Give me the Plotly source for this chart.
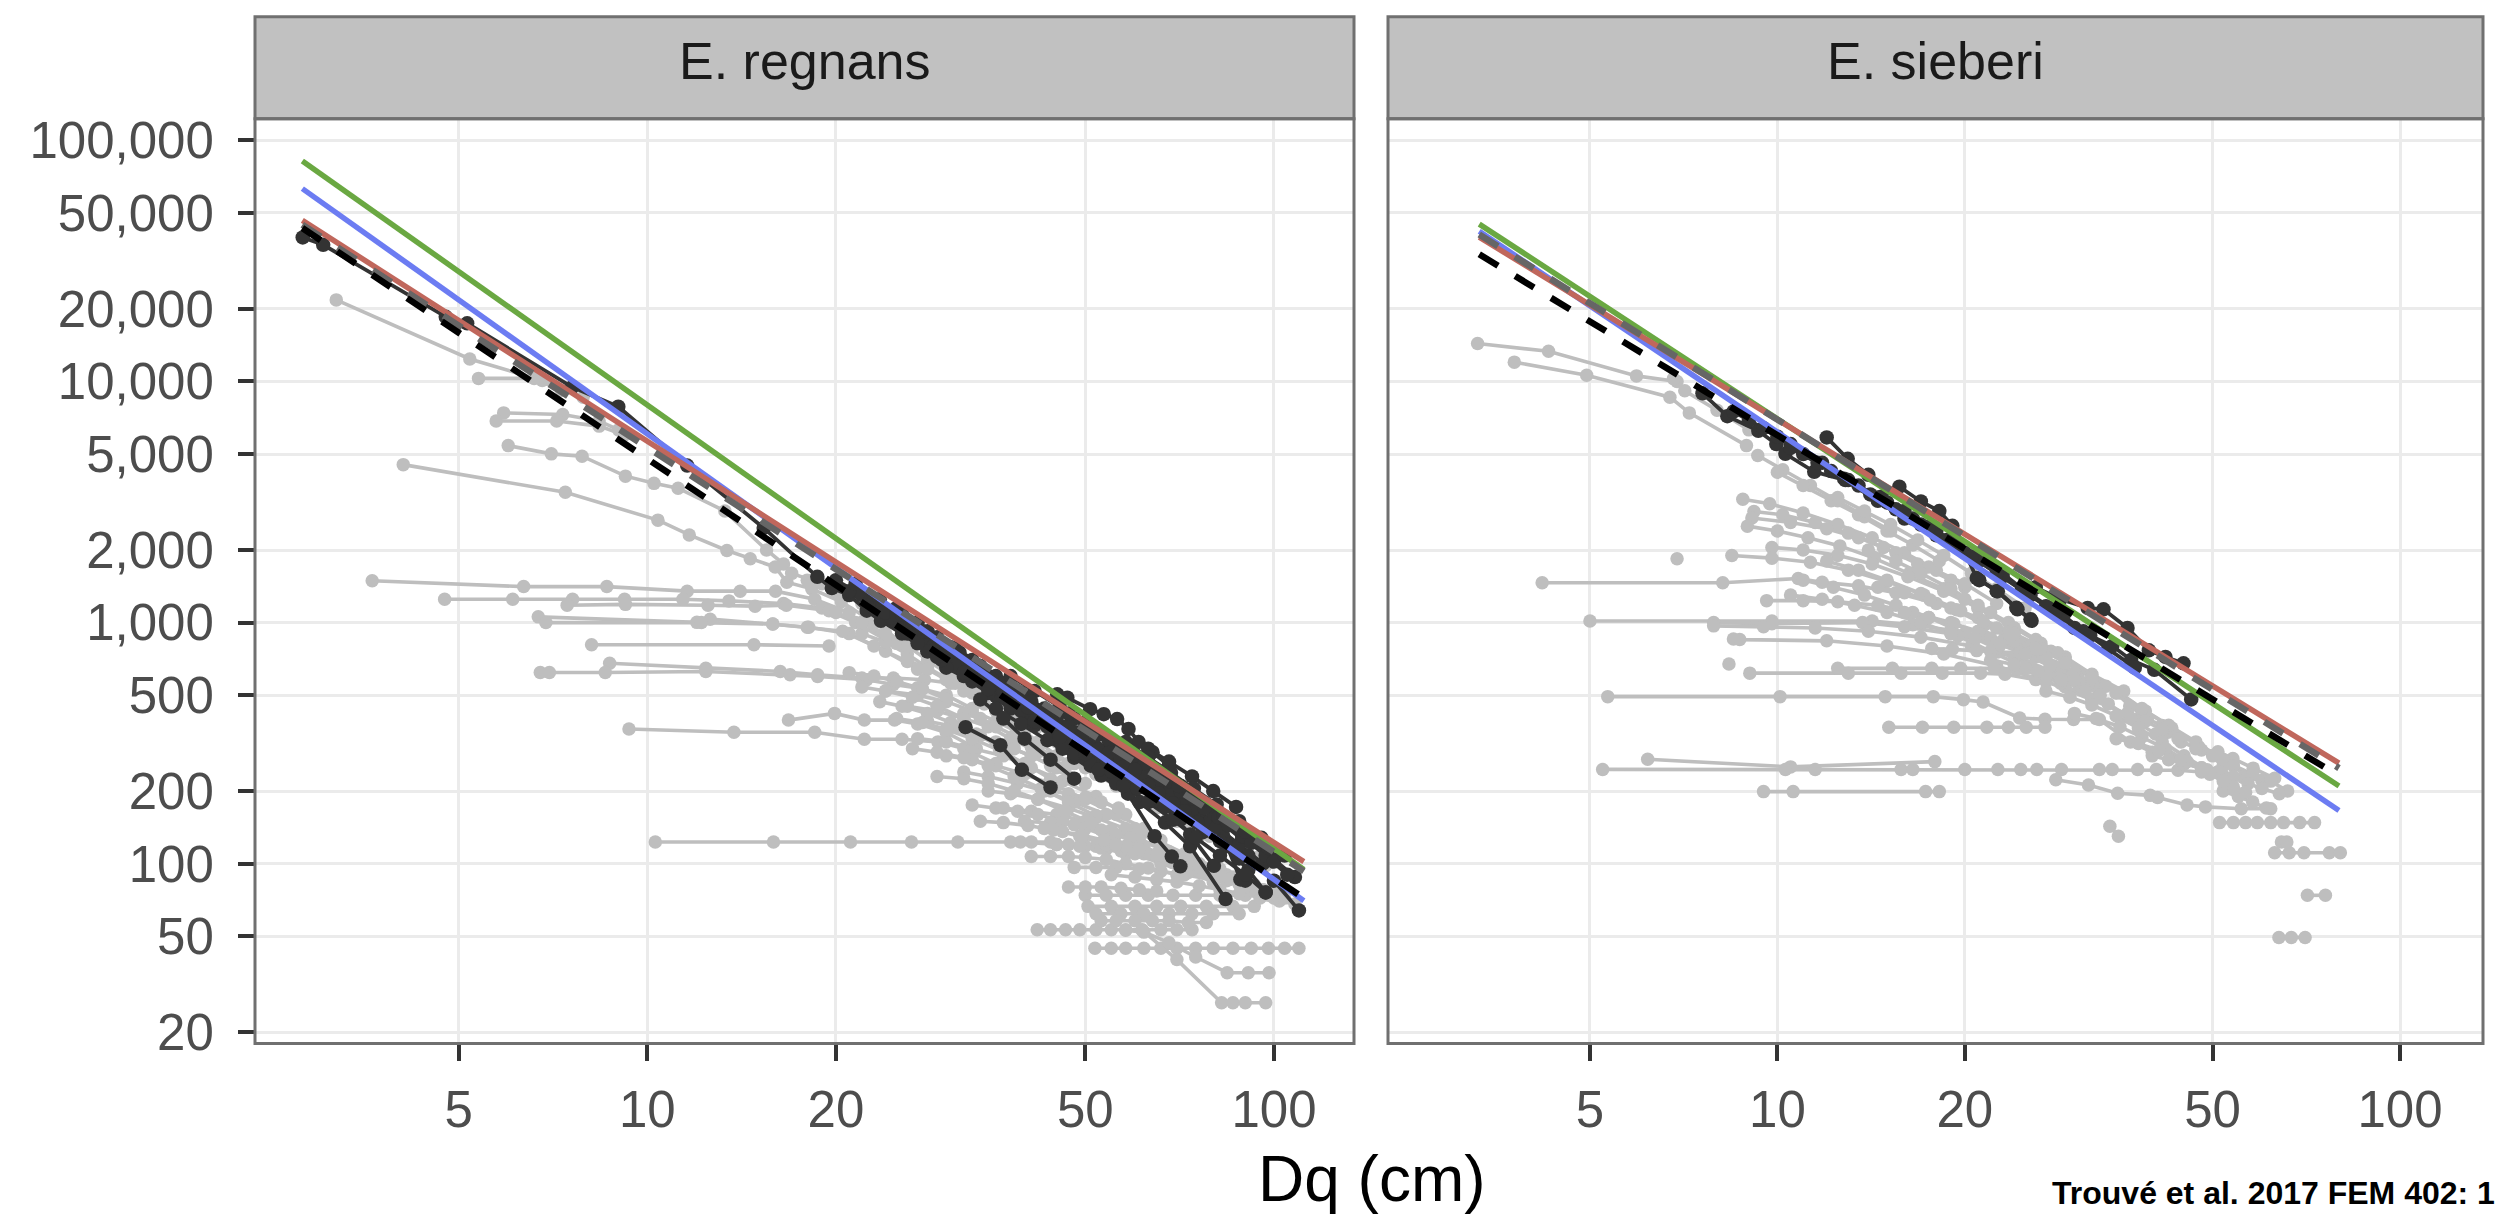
import plotly.graph_objects as go

# ------------------------------------------------------------------
# DATA  (Dq in cm, N in stems/ha)
# ------------------------------------------------------------------
panels = ["E. regnans", "E. sieberi"]

x_ticks = [5, 10, 20, 50, 100]
x_tick_text = ["5", "10", "20", "50", "100"]
y_ticks = [20, 50, 100, 200, 500, 1000, 2000, 5000, 10000, 20000, 50000, 100000]
y_tick_text = ["20", "50", "100", "200", "500", "1,000", "2,000", "5,000",
               "10,000", "20,000", "50,000", "100,000"]

# --- E. regnans : all other plots (light grey trajectories) ---
regnans_other = [
    ([3.19, 5.21, 6.8, 7.9], [21800, 12400, 10100, 8600]),
    ([5.38, 6.6, 7.3], [10300, 10300, 9200]),
    ([5.90, 7.33, 8.38, 9.0], [7410, 7300, 6860, 6300]),
    ([5.74, 7.17, 8.38, 9.2], [6860, 6860, 6530, 6000]),
    ([6.00, 7.03, 7.87, 9.23, 10.25, 11.2, 13.3, 15.5, 16.5], [5420, 5010, 4900, 4050, 3780, 3610, 2900, 2000, 1750]),
    ([4.08, 7.40, 10.4, 11.67, 13.4, 14.6, 16.0, 16.7, 18.3, 20.4, 23.0, 26.0], [4520, 3470, 2660, 2310, 1990, 1840, 1700, 1470, 1380, 1220, 1000, 800]),
    ([3.64, 6.35, 8.62, 11.58, 14.07, 16.02, 18.5, 21.0], [1490, 1410, 1410, 1350, 1350, 1350, 1250, 1100]),
    ([4.75, 6.10, 7.60, 9.20, 11.4, 13.5, 16.5, 19.0, 21.5, 24.0], [1250, 1250, 1250, 1250, 1250, 1230, 1200, 1150, 1000, 850]),
    ([7.45, 9.23, 12.5, 14.86, 16.67, 19.5, 22.0, 25.0], [1180, 1190, 1180, 1170, 1180, 1120, 1000, 820]),
    ([6.70, 12.0, 12.6, 15.86, 18.1, 21.0, 24.0, 27.0], [1056, 1002, 1033, 986, 956, 900, 760, 640]),
    ([6.89, 12.2, 15.86, 18.0, 20.5, 23.0, 26.0], [1000, 1000, 986, 956, 920, 800, 690]),
    ([8.15, 14.8, 19.5], [809, 809, 800]),
    ([8.71, 12.4, 16.3, 18.7, 22.0, 24.7, 27.7, 30.5, 34.0], [678, 647, 627, 607, 589, 589, 579, 560, 480]),
    ([6.75, 6.98, 8.57, 12.4, 16.9, 18.7, 22.4, 24.7, 27.0, 30.0, 33.0], [621, 621, 621, 627, 607, 598, 579, 553, 536, 500, 440]),
    ([16.8, 19.9, 22.2, 24.8, 27.0, 30.0, 33.5], [394, 420, 394, 394, 380, 350, 300]),
    ([9.35, 13.75, 18.5, 22.2, 25.5, 29.1, 32.0, 36.0], [362, 351, 351, 328, 328, 320, 300, 260]),
    ([10.3, 15.9, 21.1, 26.4, 31.3, 39.4, 45.0, 52.0], [123, 123, 123, 123, 123, 123, 120, 118]),
    ([24, 27, 30, 33, 36, 40], [520, 500, 470, 430, 390, 340]),
    ([26, 29, 32, 35, 38, 42, 46], [450, 430, 400, 370, 330, 290, 250]),
    ([28, 31, 34, 37, 41, 45, 50], [390, 370, 340, 310, 280, 250, 215]),
    ([27, 30, 33, 37, 41, 46, 52, 58], [330, 320, 300, 280, 250, 220, 190, 160]),
    ([30, 33, 36, 40, 45, 50, 56, 62], [280, 270, 255, 235, 210, 185, 160, 140]),
    ([32, 35, 39, 43, 48, 54, 60, 66], [240, 230, 215, 200, 180, 160, 140, 125]),
    ([35, 38, 42, 47, 52, 58, 65, 72], [200, 195, 185, 170, 155, 140, 125, 110]),
    ([37, 41, 45, 50, 55, 61, 68, 76, 84], [170, 165, 160, 150, 138, 125, 112, 100, 90]),
    ([40, 44, 48, 53, 59, 66, 74, 82, 90], [150, 148, 145, 138, 128, 118, 106, 95, 85]),
    ([38, 41, 44, 47, 50, 54, 58], [123, 123, 123, 120, 118, 115, 110]),
    ([41, 44, 47, 50, 54, 58, 63, 70], [107, 107, 107, 106, 104, 100, 96, 90]),
    ([48, 52, 56, 61, 66, 72, 80, 88, 96], [96.5, 96.5, 96.5, 95, 93, 90, 86, 82, 78]),
    ([50, 54, 58, 63, 69, 75, 82, 90, 98, 103], [74, 74, 74, 74, 74, 74, 74, 74, 74, 74]),
    ([50.5, 55, 60, 65, 71, 78, 86, 93], [66.5, 66.5, 66.5, 66.5, 66.5, 66.5, 66.5, 66.5]),
    ([52, 57, 62, 68, 74, 80, 88], [62, 62, 62, 62, 62, 62, 62]),
    ([41.9, 44, 46.5, 49, 52, 55, 58, 61.6, 66, 70, 74], [53.2, 53.2, 53.2, 53.2, 53.2, 53.2, 53.2, 53.2, 53.2, 53.2, 53.2]),
    ([51.8, 55, 58, 62, 66, 70, 75, 80, 86, 92, 98, 104, 109.6], [44.6, 44.6, 44.6, 44.6, 44.6, 44.6, 44.6, 44.6, 44.6, 44.6, 44.6, 44.6, 44.6]),
    ([58, 62, 68, 75, 84.2, 91, 98.2], [53, 52, 47, 41, 35.3, 35.3, 35.3]),
    ([61.6, 70, 82.5, 86, 90, 97], [53, 40, 26.5, 26.5, 26.5, 26.5]),
    ([30, 32, 34, 36.5, 39, 42, 45, 49], [600, 560, 520, 470, 420, 370, 320, 280]),
    ([22, 24, 26, 28, 31, 34, 38, 42, 47], [900, 830, 740, 650, 560, 470, 390, 320, 260]),
    ([20, 22, 24, 26, 28, 30.5, 33, 36, 40], [1100, 1000, 900, 800, 700, 600, 510, 430, 360]),
    ([18, 20, 22, 24, 26, 28, 30], [1500, 1350, 1200, 1050, 900, 780, 680]),
    ([17, 19, 21, 23, 25.5, 28, 31, 34], [1600, 1450, 1300, 1100, 900, 740, 600, 490]),
    ([33, 36, 39, 42, 46, 50, 55, 60, 66, 73], [175, 170, 165, 160, 150, 140, 128, 115, 104, 94]),
    ([45, 49, 53, 57, 62, 67, 73, 79, 86, 93, 100], [120, 118, 116, 113, 110, 106, 100, 94, 88, 82, 76]),
    ([55, 60, 65, 70, 76, 82, 88, 95, 102, 108], [90, 88, 86, 84, 81, 78, 75, 72, 70, 68]),
    ([60, 66, 72, 78, 84], [230, 210, 190, 168, 150]),
    ([42, 45, 48, 52, 56, 60, 65, 70, 76], [300, 280, 260, 235, 210, 190, 170, 150, 130]),
    ([50, 54, 58, 63, 68, 74, 80], [250, 235, 215, 195, 175, 155, 138]),
    ([26, 28, 30, 32, 34.5, 37], [700, 640, 580, 520, 460, 400]),
    ([32, 34, 36, 38.5, 41, 44], [420, 400, 370, 340, 305, 270]),
    ([36, 38.5, 41, 44, 47], [320, 300, 280, 255, 230]),
    ([44, 47, 50, 53, 56.5], [200, 195, 188, 180, 170]),
    ([21, 23, 25, 27.5, 30], [620, 600, 570, 530, 480]),
    ([22, 24, 26.5, 29, 32], [540, 520, 490, 450, 400]),
    ([23.5, 25.5, 28, 30.5, 33.5, 37], [470, 450, 420, 385, 345, 300]),
    ([25, 27.5, 30, 33, 36.5, 40, 44], [400, 385, 360, 330, 295, 260, 225]),
    ([26.5, 29, 32, 35, 38.5, 42.5, 47, 52], [300, 290, 275, 255, 230, 205, 180, 158]),
    ([29, 32, 35, 38.5, 42, 46.5, 51, 56, 62], [230, 225, 215, 200, 185, 165, 148, 132, 118]),
    ([34, 37, 40.5, 44.5, 49, 54, 60, 66, 73, 80], [150, 148, 144, 138, 130, 120, 110, 100, 92, 84]),
    ([43, 46, 49.5, 53.5, 58, 63, 69, 76, 84, 92, 100], [140, 136, 131, 125, 118, 110, 101, 93, 85, 78, 72]),
    ([56, 61, 66, 72, 78, 85, 93, 101], [120, 115, 108, 100, 93, 86, 80, 74]),
    ([65, 70, 76, 82, 89, 96, 104], [110, 104, 97, 90, 84, 78, 72]),
    ([47, 50, 53, 57, 61, 65], [80, 80, 80, 79, 78, 77]),
    ([53, 56, 60, 64, 68, 73, 78], [58, 58, 58, 58, 58, 57, 57]),
    ([68, 72, 77, 82, 88, 94], [160, 150, 140, 128, 117, 106]),
    ([74, 79, 85, 91, 97], [140, 130, 118, 108, 98]),
]

# --- E. regnans : self-thinning plots (dark trajectories) ---
regnans_selfthin = [
    ([2.82, 3.04, 4.77, 5.16, 7.59, 8.99, 11.58, 15.34, 18.68, 19.7, 21.0, 22.4, 23.6, 25.5, 28.0],
     [39600, 36900, 18540, 17430, 9480, 7860, 4480, 2470, 1548, 1390, 1300, 1120, 1017, 900, 760]),
    ([20, 22, 24, 26, 28.5, 31], [1500, 1300, 1120, 960, 820, 690]),
    ([21, 23, 25, 27.5, 30, 33, 36], [1350, 1150, 1000, 860, 740, 620, 520]),
    ([22.5, 24.5, 27, 29.5, 32, 35, 38.5, 42], [1200, 1050, 900, 770, 660, 560, 470, 395]),
    ([24, 26.5, 29, 32, 35, 38.5, 42, 46, 50], [1100, 950, 820, 700, 600, 510, 430, 360, 300]),
    ([26, 28.5, 31, 34, 37.5, 41, 45, 49.5, 54, 59], [900, 790, 680, 590, 500, 430, 365, 310, 262, 222]),
    ([28, 31, 34, 37, 40.5, 44.5, 49, 54, 59, 65, 71], [760, 660, 570, 490, 420, 360, 305, 258, 218, 183, 153]),
    ([30, 33, 36, 39.5, 43.5, 48, 53, 58, 64, 70, 77], [650, 570, 495, 430, 370, 315, 266, 225, 190, 160, 135]),
    ([32.2, 36.6, 39.6, 44.0], [368, 310, 245, 207]),
    ([45.1, 46.8, 50.9, 53.5, 56.2, 58.6, 60.8, 64, 68], [504, 488, 437, 417, 398, 362, 320, 290, 255]),
    ([35, 38.5, 42.5, 47, 52, 57, 63, 69, 76, 83, 91, 100, 109.6], [560, 490, 420, 360, 305, 258, 220, 185, 155, 130, 108, 85, 64]),
    ([40, 44, 48.5, 53, 58, 64, 70, 77, 84, 91, 97], [480, 410, 350, 295, 250, 210, 175, 145, 118, 94, 76]),
    ([42, 46, 50.5, 55.5, 61, 67, 73.5, 80.2], [400, 345, 295, 250, 210, 172, 132, 98]),
    ([36, 39.5, 43.5, 48, 53, 58.5, 64.5, 68.7, 70.9], [440, 380, 325, 275, 232, 195, 130, 107, 97.5]),
    ([46, 51, 56, 61, 67, 73.5, 83.7], [300, 255, 215, 180, 148, 118, 71.3]),
    ([55, 60, 66, 72, 79, 84, 88.4, 90], [300, 260, 220, 185, 150, 120, 86, 85]),
    ([60, 65, 71, 77, 84, 92, 100, 108], [280, 245, 210, 178, 150, 126, 104, 88]),
    ([63, 68, 74, 80, 87], [300, 265, 230, 200, 172]),
    ([48, 52, 56.5, 61.5, 67], [400, 350, 305, 265, 228]),
    ([33, 36, 39.5, 43, 47], [700, 600, 510, 440, 375]),
    ([25, 27, 29, 31.5, 34], [1150, 1000, 870, 750, 650]),
    ([27, 29.5, 32, 35, 38, 41.5], [820, 700, 600, 510, 440, 375]),
    ([34, 37, 40, 44, 48], [480, 400, 330, 270, 225]),
    ([44, 48, 52.5, 57.5, 63, 69, 75, 82, 90, 97], [330, 285, 245, 210, 180, 152, 128, 108, 90, 76]),
    ([52, 57, 62.5, 68.5, 75, 82, 89], [340, 290, 248, 210, 178, 150, 126]),
    ([57, 62, 68, 74, 81, 88, 96], [270, 232, 198, 168, 142, 120, 100]),
    ([23, 25, 27.5, 30, 32.5, 35.5, 39], [1250, 1080, 920, 790, 680, 580, 490]),
    ([31, 34, 37, 40.5, 44, 48, 52.5, 57.5, 63, 69, 75.5, 82, 88], [780, 660, 560, 480, 410, 350, 298, 252, 212, 178, 148, 124, 105]),
    ([38, 41.5, 45.5, 50, 55, 60.5, 66.5, 73, 80], [600, 520, 450, 385, 325, 275, 232, 195, 162]),
    ([47, 51.5, 56.5, 62, 68, 74.5, 81.5, 89, 97, 105], [420, 360, 305, 260, 220, 186, 156, 130, 108, 90]),
    ([21.5, 23.5, 25.5, 28, 30.5, 33.5], [1450, 1250, 1080, 920, 790, 670]),
    ([29, 32, 35, 38, 41.5, 45.5, 50, 55, 60.5], [720, 620, 530, 455, 390, 335, 285, 242, 205]),
    ([37, 40.5, 44.5, 49, 54, 59.5, 65.5, 72], [520, 445, 380, 322, 272, 230, 195, 165]),
    ([50, 54.5, 59.5, 65, 71, 77.5, 84.5, 92, 100], [380, 325, 278, 236, 200, 170, 144, 122, 102]),
    ([58, 63, 68.5, 74.5, 81, 88, 95.5, 104], [320, 276, 238, 205, 176, 150, 128, 108]),
    ([65, 70.5, 76.5, 83, 90, 98], [240, 210, 182, 158, 136, 116]),
    ([41, 45, 49.5, 54.5, 60], [470, 400, 340, 288, 245]),
]

# --- E. sieberi : all other plots ---
sieberi_other = [
    ([3.30, 4.29, 5.94, 6.9], [14370, 13340, 10550, 10000]),
    ([3.78, 4.94, 6.72, 7.22, 8.92], [12030, 10610, 8610, 7410, 5420]),
    ([6.81, 7.1, 8.0, 9.0], [10280, 9150, 7600, 6300]),
    ([8.80, 9.72, 11.0, 12.5, 14.2, 16.0, 18.0, 20.0], [3245, 3110, 2850, 2550, 2250, 1950, 1650, 1400]),
    ([9.17, 10.2, 11.5, 13.0, 14.8, 16.8, 19.0], [2890, 2800, 2600, 2350, 2050, 1750, 1500]),
    ([9.1, 10.5, 12.0, 13.5, 15.5, 17.5, 20.0, 22.5], [2716, 2600, 2450, 2250, 1950, 1700, 1450, 1200]),
    ([8.95, 10.0, 11.2, 12.6, 14.3, 16.3, 18.5, 21.0], [2512, 2400, 2250, 2080, 1850, 1600, 1380, 1150]),
    ([9.8, 11.0, 12.5, 14.2, 16.2, 18.5, 21.0, 24.0], [2050, 2000, 1900, 1750, 1550, 1350, 1150, 950]),
    ([8.45, 9.8, 11.3, 13.0, 15.0, 17.2, 19.7, 22.5, 25.5], [1897, 1850, 1780, 1650, 1480, 1300, 1120, 950, 800]),
    ([6.9], [1840]),
    ([4.19, 8.17, 10.8, 11.8, 13.5, 15.5, 18.0, 21.0, 24.0, 27.5], [1462, 1462, 1524, 1470, 1420, 1330, 1200, 1050, 900, 760]),
    ([9.61, 11.0, 12.5, 14.5, 16.5, 19.0, 21.5, 24.5, 28.0], [1233, 1233, 1220, 1180, 1100, 1000, 880, 760, 650]),
    ([5.0, 9.8, 14.2, 16.5, 19.0, 22.0, 25.0, 28.5, 32.0], [1015, 1015, 1015, 980, 930, 860, 760, 650, 560]),
    ([7.9, 9.8, 13.7, 16.0, 19.0, 22.5, 26.0], [1000, 990, 1000, 960, 900, 820, 720]),
    ([7.9, 9.5, 11.5, 14.0, 17.0, 20.5, 24.0, 28.0, 33.0], [969, 960, 950, 920, 870, 800, 720, 620, 530]),
    ([8.5, 8.7, 12.0, 15.0, 18.5, 22.5, 27.0, 32.0, 38.0], [855, 850, 840, 800, 740, 660, 570, 480, 400]),
    ([8.36], [673]),
    ([9.03, 13.0, 15.8, 18.4, 21.2, 23.2, 26.0, 29.0], [617, 617, 617, 617, 617, 610, 580, 540]),
    ([12.5, 15.3, 17.7, 19.7, 22.3, 24.2, 27.0, 30.5], [646, 646, 646, 646, 646, 640, 600, 550]),
    ([5.34, 10.1, 14.9, 17.8, 19.9, 21.4, 24.5, 26.9, 29.9, 32.9, 36.9, 40.0], [493, 493, 493, 493, 479, 468, 402, 397, 396, 396, 320, 290]),
    ([15.1, 17.1, 19.2, 21.7, 23.5, 25.1, 26.9], [368, 368, 368, 368, 368, 368, 368]),
    ([6.19, 10.5, 17.9], [271, 252, 265]),
    ([5.24, 10.3, 11.5, 15.8, 16.5, 20.0, 22.6, 24.6, 26.1, 28.6, 32.9, 34.5, 37.9, 40.6, 44.0, 48.0, 52.0, 56.0, 60.0],
     [246, 246, 246, 246, 246, 246, 246, 246, 246, 246, 246, 246, 246, 246, 244, 240, 232, 228, 222]),
    ([9.5, 10.6, 17.3, 18.2], [199, 199, 199, 199]),
    ([28.0, 31.6, 35.2, 39.7, 40.8, 45.5, 48.7, 55.6, 62.0], [223, 212, 196, 192, 188, 175, 172, 169, 169]),
    ([51.3, 54.0, 56.5, 59.0, 62.0, 65.0, 69.0, 72.9], [148, 148, 148, 148, 148, 148, 148, 148]),
    ([34.2, 35.3], [143, 130]),
    ([64.5, 65.8], [123, 123]),
    ([62.9, 66.4, 70.1, 77.0, 80.2], [111, 111, 111, 111, 111]),
    ([71.0, 75.9], [73.9, 73.9]),
    ([63.9, 66.9, 70.4], [49.4, 49.4, 49.4]),
    ([17.7, 19.1, 20.9, 22.6, 24.5, 26.6, 28.2], [780, 775, 765, 755, 750, 750, 750]),
    ([31.9, 33.7, 35.0, 36.8, 39.3, 41.5, 42.4, 44.5, 48.0, 51.0, 53.9, 58.1, 62.9], [578, 544, 512, 451, 398, 374, 351, 320, 296, 291, 273, 249, 226]),
    ([14, 15.5, 17, 19, 21, 23.5, 26, 29, 32, 36], [2000, 1800, 1600, 1380, 1180, 1000, 850, 720, 610, 520]),
    ([12, 13.5, 15, 17, 19, 21.5, 24, 27, 30], [1800, 1650, 1500, 1320, 1150, 980, 840, 720, 620]),
    ([11, 12.3, 13.8, 15.5, 17.5, 20, 22.5, 25.5, 29], [1500, 1400, 1300, 1180, 1050, 900, 780, 660, 560]),
    ([10.5, 11.8, 13.3, 15, 17, 19.5, 22, 25, 28.5, 32], [1300, 1250, 1180, 1100, 1000, 880, 760, 650, 560, 480]),
    ([20, 22, 24, 26.5, 29, 32, 35.5, 39, 43, 47.5, 52], [1250, 1100, 950, 820, 700, 600, 510, 430, 365, 305, 255]),
    ([24, 26.5, 29, 32, 35, 38.5, 42.5, 47, 52, 57], [900, 780, 680, 590, 510, 440, 375, 320, 270, 230]),
    ([36.5, 39, 41.5, 44, 47, 50, 54, 58, 62, 66], [420, 390, 360, 330, 300, 280, 255, 235, 220, 200]),
    ([45, 48, 51, 54, 57, 60, 64], [260, 250, 240, 230, 215, 205, 195]),
    ([40, 42.5, 45, 48, 51], [280, 270, 260, 250, 240]),
    ([52, 55, 58, 61], [200, 190, 180, 170]),
    ([9.3, 10.2, 11.3, 12.5, 13.8, 15.2], [4930, 4300, 3700, 3200, 2750, 2400]),
    ([10, 11, 12.2, 13.5, 15, 16.5, 18.2], [4200, 3700, 3200, 2800, 2400, 2100, 1800]),
    ([12.5, 13.8, 15.2, 16.8, 18.5, 20.5, 22.5, 25], [3300, 2900, 2550, 2200, 1900, 1600, 1380, 1150]),
    ([16, 17.5, 19.2, 21, 23, 25.3, 27.8, 30.5], [1100, 1050, 990, 920, 840, 750, 660, 580]),
    ([19, 20.8, 22.8, 25, 27.4, 30, 33], [900, 860, 810, 740, 660, 580, 500]),
    ([22, 24, 26.2, 28.6, 31.2, 34, 37, 40.5], [700, 670, 630, 580, 520, 460, 400, 345]),
    ([27, 29.5, 32, 35, 38, 41.5, 45, 49], [520, 490, 455, 410, 365, 320, 280, 245]),
    ([30, 32.5, 35.5, 38.5, 42, 45.5, 49.5, 54], [420, 400, 370, 335, 300, 265, 235, 208]),
    ([35, 38, 41, 44.5, 48, 52, 56.5], [330, 315, 295, 270, 245, 220, 198]),
    ([14.5, 16, 17.6, 19.4, 21.4, 23.6, 26], [1400, 1330, 1240, 1130, 1010, 890, 780]),
]

# --- E. sieberi : self-thinning plots ---
sieberi_selfthin = [
    ([7.58, 8.31, 9.32, 9.96, 10.3, 11.46, 12.86, 14.5, 16.0], [8930, 7180, 6240, 5500, 5010, 4220, 3900, 3200, 2700]),
    ([12.0, 12.97, 14.0], [5860, 4780, 4100]),
    ([14.7, 15.7, 17.0, 18.2, 19.1, 20.9, 22.5, 24.3, 25.5], [3330, 3660, 3180, 2900, 2520, 1530, 1350, 1135, 1033]),
    ([21.1, 22.6, 24.2, 25.6], [1500, 1350, 1153, 1017]),
    ([28.8, 31.8, 34.5, 37.0, 40.3, 46.2], [1067, 883, 800, 700, 637, 480]),
    ([26.0, 28.5, 31.5, 33.4, 36.5, 39.5, 42.0, 44.9], [1400, 1250, 1150, 1135, 950, 767, 720, 678]),
    ([18, 19.5, 21, 23, 25, 27.5, 30], [2400, 2100, 1850, 1600, 1350, 1150, 950]),
    ([9.0, 10.0, 11.0, 12.2, 13.5, 15.0, 16.5, 18.0, 20.0], [6900, 5900, 5000, 4250, 3700, 3150, 2700, 2300, 1950]),
    ([8.5, 9.5, 10.5, 11.8, 13.0, 14.5], [7500, 6400, 5500, 4600, 3900, 3300]),
    ([16, 17.5, 19, 21, 23, 25.5, 28, 31, 34, 37.5], [2900, 2500, 2150, 1800, 1550, 1300, 1100, 920, 780, 650]),
    ([10.5, 11.6, 12.8, 14.1, 15.5, 17, 18.7, 20.5, 22.5, 24.7, 27], [5300, 4600, 3950, 3400, 2950, 2550, 2200, 1880, 1600, 1370, 1170]),
]

# --- fitted self-thinning lines (end points) ---
regnans_fit_dq = [2.816, 111.6]
regnans_green = [82200, 94.6]
regnans_blue = [63100, 70.2]
regnans_red = [46600, 102]
regnans_greydash = [44700, 93]
regnans_blackdash = [43300, 72]

sieberi_fit_dq = [3.32, 79.8]
sieberi_green = [44970, 210]
sieberi_blue = [42000, 166]
sieberi_red = [39700, 261]
sieberi_greydash = [40700, 249]
sieberi_blackdash = [33700, 231]

# ------------------------------------------------------------------
W, H = 2503, 1222
FONT = "Liberation Sans, Arial, Helvetica, sans-serif"
GREY_PT = "#BEBEBE"
DARK_PT = "#333333"
GREEN = "#6AA842"
BLUE = "#6C7CF2"
RED = "#C0675C"


def stitch(trajs):
    xs, ys = [], []
    for dq, n in trajs:
        xs += list(dq) + [None]
        ys += list(n) + [None]
    return xs, ys


fig = go.Figure()

sets = [
    ("x", "y", regnans_other, regnans_selfthin, regnans_fit_dq,
     [regnans_green, regnans_blue, regnans_red, regnans_greydash, regnans_blackdash]),
    ("x2", "y2", sieberi_other, sieberi_selfthin, sieberi_fit_dq,
     [sieberi_green, sieberi_blue, sieberi_red, sieberi_greydash, sieberi_blackdash]),
]
line_styles = [
    dict(color=GREEN, width=5.5),
    dict(color=BLUE, width=5.5),
    dict(color=RED, width=5.5),
    dict(color="#666666", width=6.5, dash="22px,20px"),
    dict(color="#000000", width=6.5, dash="22px,20px"),
]

for xa, ya, other, selfthin, fitdq, fits in sets:
    gx, gy = stitch(other)
    fig.add_trace(go.Scatter(x=gx, y=gy, xaxis=xa, yaxis=ya, mode="lines+markers",
                             line=dict(color=GREY_PT, width=3.6),
                             marker=dict(color=GREY_PT, size=13.5),
                             connectgaps=False, showlegend=False, hoverinfo="skip"))
    dx, dy = stitch(selfthin)
    fig.add_trace(go.Scatter(x=dx, y=dy, xaxis=xa, yaxis=ya, mode="lines+markers",
                             line=dict(color=DARK_PT, width=3.8),
                             marker=dict(color=DARK_PT, size=14.5),
                             connectgaps=False, showlegend=False, hoverinfo="skip"))
    for fy, st in zip(fits, line_styles):
        fig.add_trace(go.Scatter(x=fitdq, y=fy, xaxis=xa, yaxis=ya, mode="lines",
                                 line=st, showlegend=False, hoverinfo="skip"))

# panel geometry (pixels -> paper)
left_px = [(255, 1354), (1388, 2483)]
top_px, bot_px, strip_top_px = 115, 1057.5, 11
px2x = lambda p: p / W
px2y = lambda p: 1 - p / H
x_ranges = [[0.3741, 2.1277], [0.3746, 2.1333]]
y_range = [1.2536, 5.0895]

axis_common = dict(type="log", showgrid=True, gridcolor="#EBEBEB", gridwidth=2.5,
                   zeroline=False, showline=False, ticks="outside", ticklen=16,
                   tickwidth=4, tickcolor="#333333",
                   tickfont=dict(family=FONT, size=51, color="#4D4D4D"))

fig.update_layout(
    width=W, height=H,
    margin=dict(l=0, r=0, t=0, b=0, pad=0),
    paper_bgcolor="white", plot_bgcolor="white",
    xaxis=dict(domain=[px2x(left_px[0][0]), px2x(left_px[0][1])], range=x_ranges[0],
               tickvals=x_ticks, ticktext=x_tick_text, anchor="y", ticklabelstandoff=5,
               **axis_common),
    xaxis2=dict(domain=[px2x(left_px[1][0]), px2x(left_px[1][1])], range=x_ranges[1],
                tickvals=x_ticks, ticktext=x_tick_text, anchor="y2", ticklabelstandoff=5,
                **axis_common),
    yaxis=dict(domain=[px2y(bot_px), px2y(top_px)], range=y_range,
               tickvals=y_ticks, ticktext=y_tick_text, anchor="x", ticklabelstandoff=14,
               **axis_common),
    yaxis2=dict(domain=[px2y(bot_px), px2y(top_px)], range=y_range,
                tickvals=y_ticks, ticktext=y_tick_text, anchor="x2",
                **{**axis_common, "ticks": "", "showticklabels": False}),
)

shapes = []
annotations = []
for (x0, x1), name in zip(left_px, panels):
    shapes.append(dict(type="rect", xref="paper", yref="paper",
                       x0=px2x(x0), x1=px2x(x1), y0=px2y(top_px), y1=px2y(strip_top_px),
                       fillcolor="#C1C1C1", line=dict(color="#707070", width=3), layer="above"))
    shapes.append(dict(type="rect", xref="paper", yref="paper",
                       x0=px2x(x0), x1=px2x(x1), y0=px2y(bot_px), y1=px2y(top_px),
                       fillcolor="rgba(0,0,0,0)", line=dict(color="#707070", width=3), layer="above"))
    annotations.append(dict(text=name, xref="paper", yref="paper",
                            x=px2x((x0 + x1) / 2), y=px2y(56), xanchor="center", yanchor="middle",
                            showarrow=False, font=dict(family=FONT, size=52, color="#1A1A1A")))

annotations.append(dict(text="Dq (cm)", xref="paper", yref="paper",
                        x=px2x(1372), y=px2y(1195), xanchor="center", yanchor="middle",
                        showarrow=False, font=dict(family=FONT, size=64, color="black")))
annotations.append(dict(text="<b>Trouvé et al. 2017 FEM 402: 1</b>", xref="paper", yref="paper",
                        x=px2x(2050), y=px2y(1210), xanchor="left", yanchor="middle",
                        showarrow=False, font=dict(family=FONT, size=32, color="black")))

fig.update_layout(shapes=shapes, annotations=annotations)
fig.write_html("out.html")
